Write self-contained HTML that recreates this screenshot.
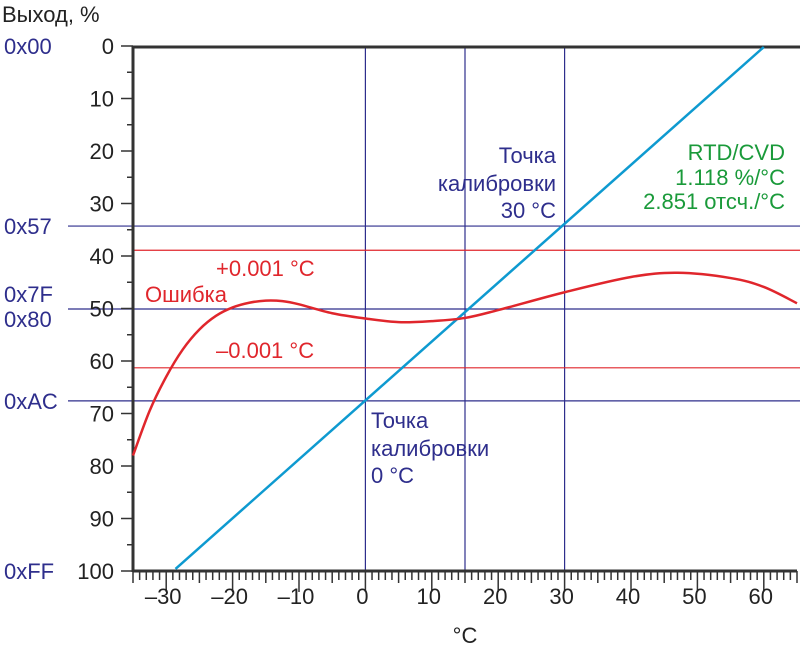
<!DOCTYPE html>
<html><head><meta charset="utf-8"><style>
body{margin:0;background:#fff}
svg text{font-family:"Liberation Sans",sans-serif}
</style></head><body>
<svg id="c" width="800" height="665" xmlns="http://www.w3.org/2000/svg"></svg>
<script>
const xTicks=[-30,-20,-10,0,10,20,30,40,50,60];
const yTicks=[0,10,20,30,40,50,60,70,80,90,100];
const calibX=[0,15,30];
const codeLabels=["0x00","0x57","0x7F","0x80","0xAC","0xFF"];
const codeValues=[0,34.3,50.1,50.1,67.6,100];
const navyLines=[34.3,50.1,67.6];
const redLimits=[38.9,61.3];
const rtdX=[-28.6,60];
const rtdY=[99.6,0.2];
const errX=[-35,-32.5,-30,-27.5,-25,-22.5,-20,-17.5,-15,-12.5,-10,-5,0,5,10,15,20,30,40,47,55,60,65];
const errY=[78,69.5,63,57.8,54,51.4,49.8,48.9,48.5,48.6,49.2,50.9,51.9,52.6,52.4,51.8,50.3,46.9,44,43.2,44.2,45.9,49];
const L=133,R=797,T=46,B=571;
const sx=v=>L+(v+35)*(R-L)/100, sy=v=>T+v*(B-T)/100;
const svg=document.getElementById('c');const NS="http://www.w3.org/2000/svg";
function el(t,a,txt){const e=document.createElementNS(NS,t);for(const k in a)e.setAttribute(k,a[k]);if(txt!==undefined)e.textContent=txt;svg.appendChild(e);return e;}
const navy="#2e2e8c",red="#e0262c",blue="#0e9ad0",green="#1a9a3a";
calibX.forEach(v=>{const e=el('line',{x1:sx(v),x2:sx(v),y1:T,y2:B,stroke:navy,'stroke-width':1.2});

});
navyLines.forEach(v=>{const e=el('line',{x1:68,x2:800,y1:sy(v),y2:sy(v),stroke:navy,'stroke-width':1.2});

});
redLimits.forEach(v=>{const e=el('line',{x1:L,x2:800,y1:sy(v),y2:sy(v),stroke:red,'stroke-width':1.2});

});
let e=el('line',{x1:L,x2:R,y1:B,y2:B,stroke:'#333','stroke-width':3});


e=el('line',{x1:L,x2:800,y1:T+1,y2:T+1,stroke:'#333','stroke-width':3});


e=el('line',{x1:L,x2:L,y1:T,y2:B+1,stroke:'#333','stroke-width':3});


for(let v=-35;v<=65;v++){const len=v%10===0?21:(v%5===0?12:9);el('line',{x1:sx(v),x2:sx(v),y1:B,y2:B+len,stroke:'#333','stroke-width':1.5});}
for(let v=0;v<=100;v+=5){const len=v%10===0?12:6;el('line',{x1:L-len,x2:L,y1:sy(v),y2:sy(v),stroke:'#333','stroke-width':1.5});}
xTicks.forEach(v=>{const t=el('text',{x:sx(v)-3,y:604,'text-anchor':'middle','font-size':22,fill:'#222'},v<0?'–'+(-v):String(v));

});
yTicks.forEach(v=>{const t=el('text',{x:114,y:sy(v)+8,'text-anchor':'end','font-size':22,fill:'#222'},String(v));

});
codeLabels.forEach((s,i)=>{const off=s==="0x7F"?-7:(s==="0x80"?18:8);const t=el('text',{x:4,y:sy(codeValues[i])+off,'font-size':22,fill:navy},s);

});
e=el('line',{x1:sx(rtdX[0]),y1:sy(rtdY[0]),x2:sx(rtdX[1]),y2:sy(rtdY[1]),stroke:blue,'stroke-width':2.5});


const P=errX.map((x,i)=>[sx(x),sy(errY[i])]);
let d=`M${P[0][0]},${P[0][1]}`;
for(let i=0;i<P.length-1;i++){const p0=P[Math.max(0,i-1)],p1=P[i],p2=P[i+1],p3=P[Math.min(P.length-1,i+2)];
d+=` C${p1[0]+(p2[0]-p0[0])/6},${p1[1]+(p2[1]-p0[1])/6} ${p2[0]-(p3[0]-p1[0])/6},${p2[1]-(p3[1]-p1[1])/6} ${p2[0]},${p2[1]}`;}
e=el('path',{d:d,fill:'none',stroke:red,'stroke-width':2.5});


function txt(x,y,s,c,a,name){const t=el('text',{x:x,y:y,'font-size':22,fill:c,'text-anchor':a||'start'},s);}
txt(2,22,'Выход, %','#222','start','y-axis-title');
txt(465,643,'°C','#222','middle','x-axis-title');
txt(556,163,'Точка',navy,'end','calib-30-label');
txt(556,191,'калибровки',navy,'end','calib-30-label');
txt(556,218,'30 °C',navy,'end','calib-30-label');
txt(371,428,'Точка',navy,'start','calib-0-label');
txt(371,456,'калибровки',navy,'start','calib-0-label');
txt(371,483,'0 °C',navy,'start','calib-0-label');
txt(785,160,'RTD/CVD',green,'end','rtd-label');
txt(785,185,'1.118 %/°C',green,'end','rtd-label');
txt(785,209,'2.851 отсч./°C',green,'end','rtd-label');
txt(216,276,'+0.001 °C',red,'start','upper-limit-label');
txt(216,358,'–0.001 °C',red,'start','lower-limit-label');
txt(145,302,'Ошибка',red,'start','error-label');
</script>
</body></html>
